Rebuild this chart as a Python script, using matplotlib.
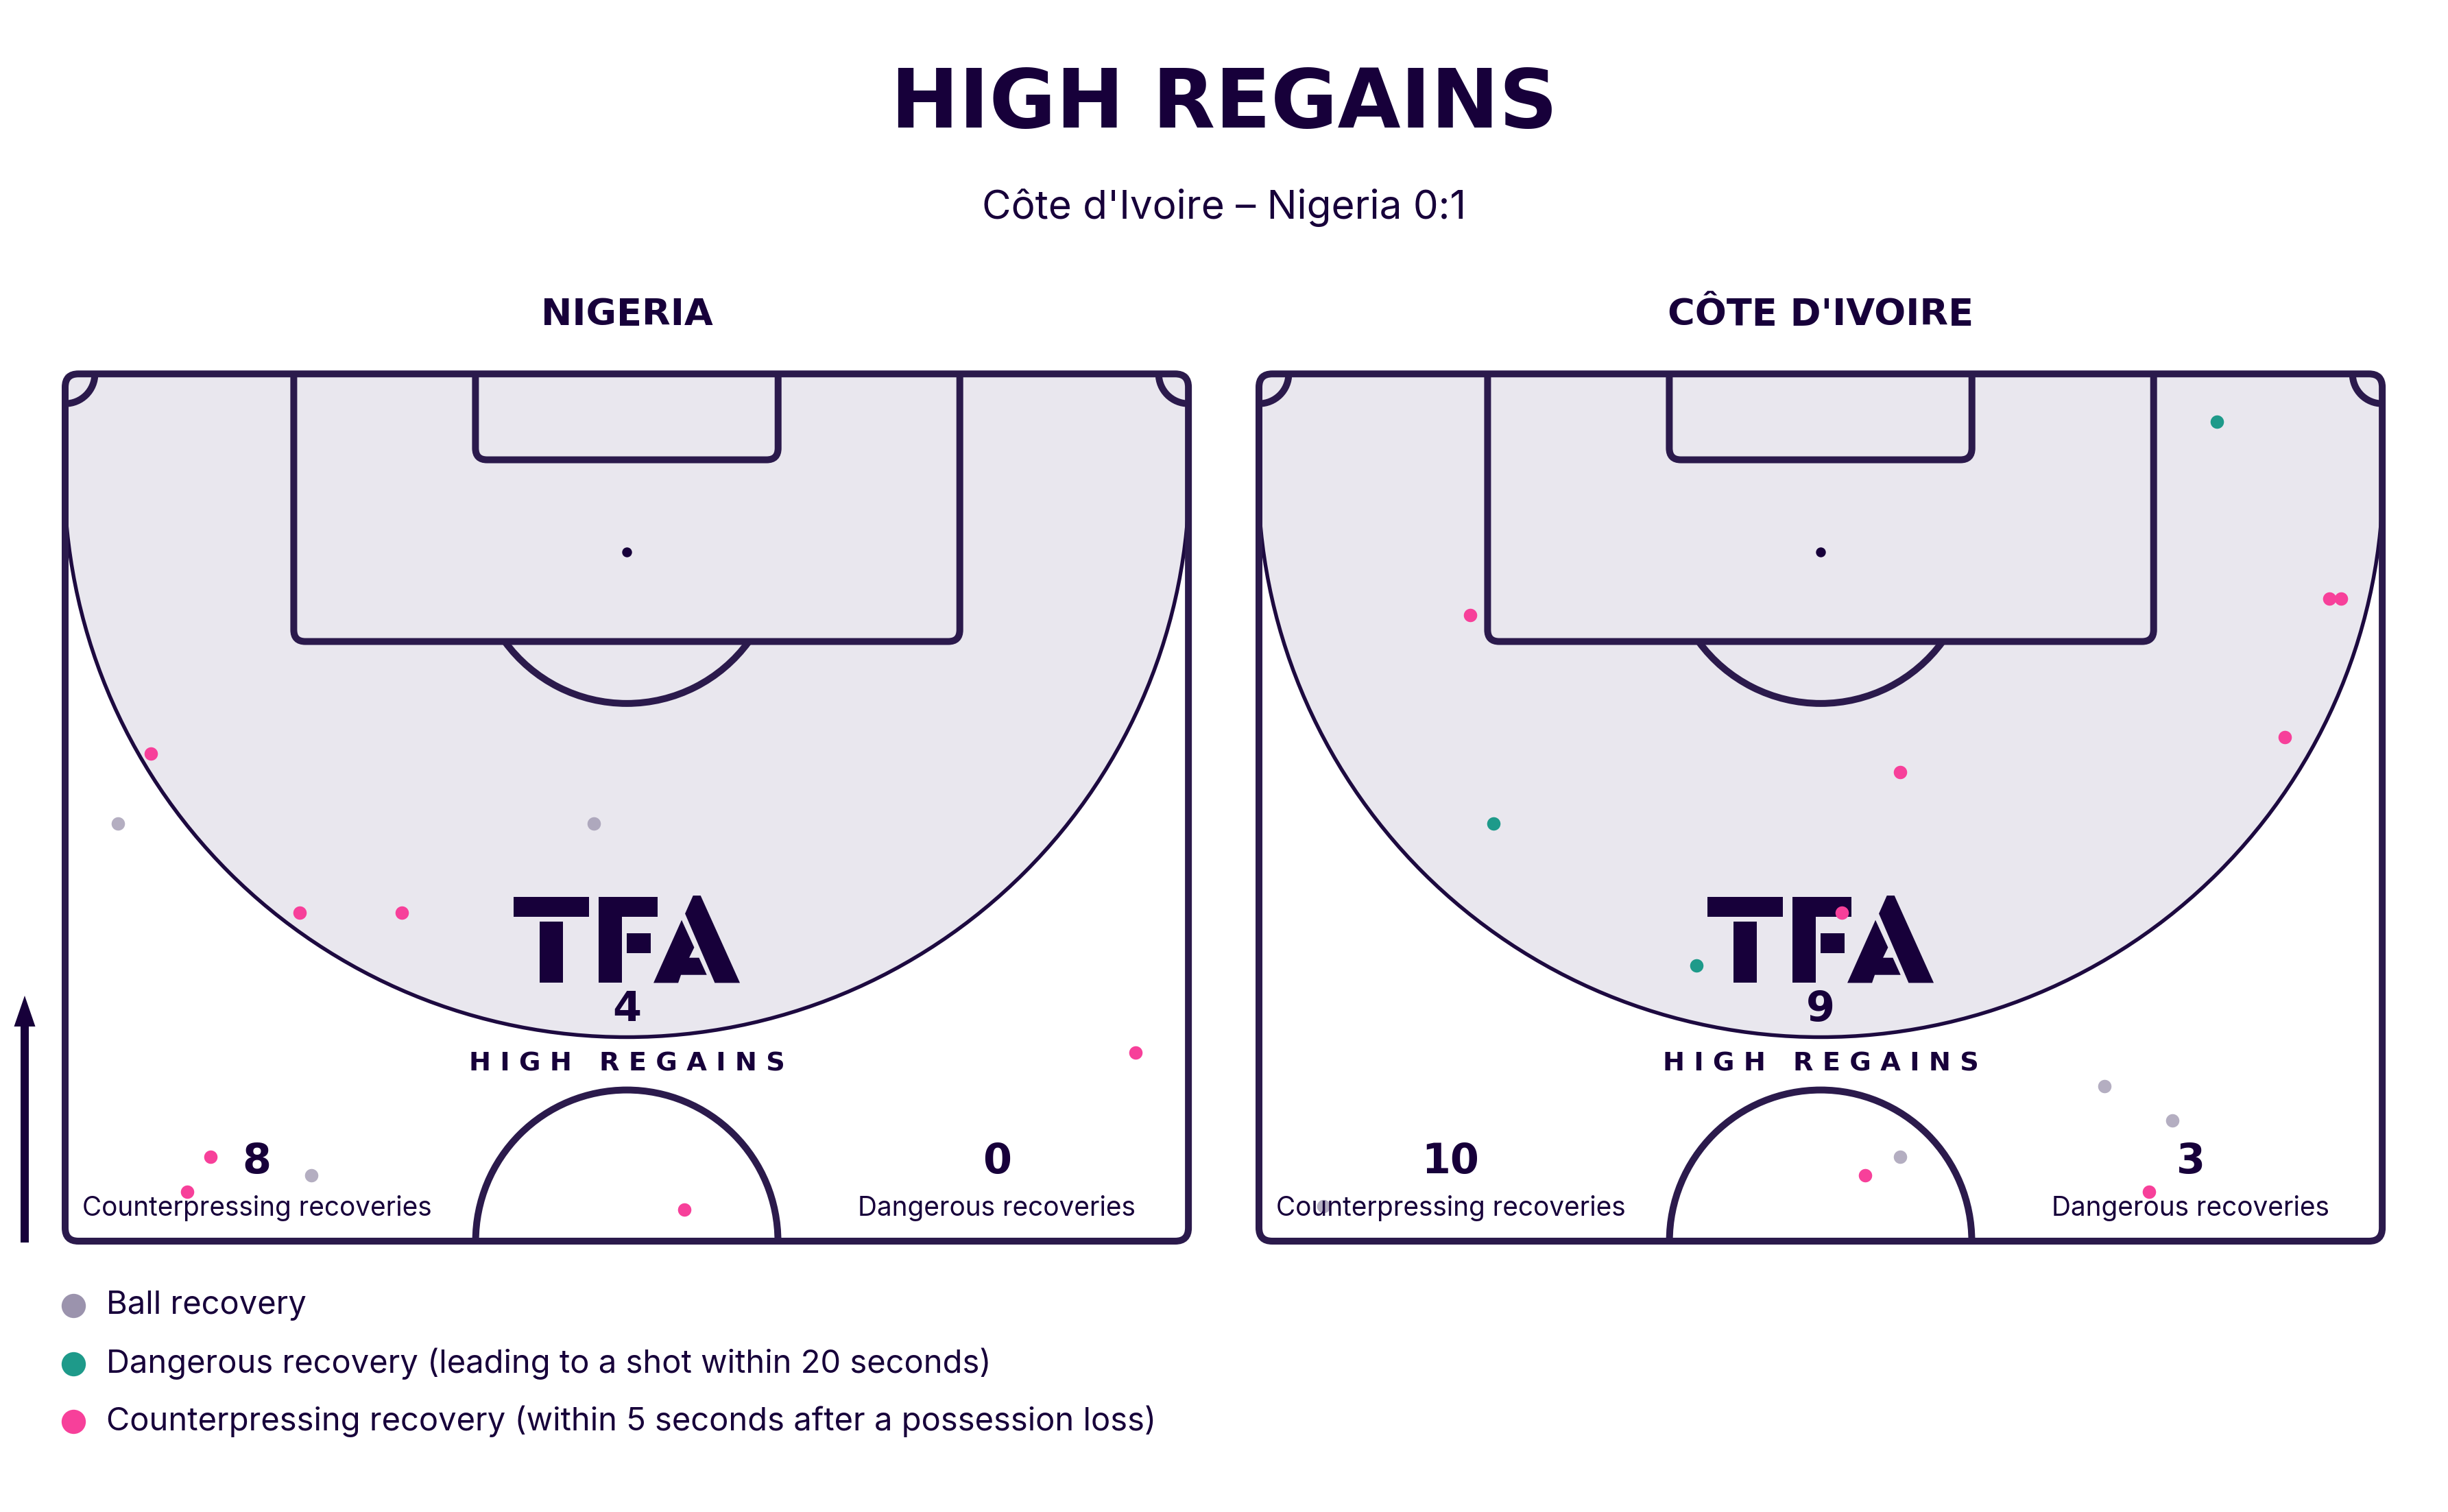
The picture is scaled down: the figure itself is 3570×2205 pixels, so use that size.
import numpy as np
import matplotlib.pyplot as plt
from matplotlib.patches import FancyBboxPatch, Rectangle, Arc, Polygon, FancyArrow

# --- colours / fonts ---
NAVY = '#17003a'
LINE = '#2b1a4c'
ZONE = '#e9e7ee'
C_BALL = '#9b93ad'
C_DANGER = '#1e9a8a'
C_COUNTER = '#f7409a'
REG = 'Inter'
BOLD = 'DejaVu Sans'

# --- data (x: across the pitch 0-68 m, y: from halfway line 0-52.5 m) ---
teams = ["NIGERIA", "CÔTE D'IVOIRE"]
high_regains = [4, 9]
counterpress_totals = [8, 10]
dangerous_totals = [0, 3]

nga_ball_x = [3.2, 32.0, 14.9]
nga_ball_y = [25.3, 25.3, 4.0]
nga_danger_x = []
nga_danger_y = []
nga_counter_x = [5.2, 14.2, 20.4, 64.8, 8.8, 7.4, 37.5]
nga_counter_y = [29.5, 19.9, 19.9, 11.4, 5.1, 3.0, 1.9]

civ_ball_x = [51.2, 55.3, 38.8, 3.9]
civ_ball_y = [9.4, 7.3, 5.1, 2.1]
civ_danger_x = [58.0, 14.2, 26.5]
civ_danger_y = [49.6, 25.3, 16.7]
civ_counter_x = [12.8, 64.8, 65.5, 62.1, 38.8, 35.3, 36.7, 53.9]
civ_counter_y = [37.9, 38.9, 38.9, 30.5, 28.4, 19.9, 4.0, 3.0]

legend_labels = ["Ball recovery",
                 "Dangerous recovery (leading to a shot within 20 seconds)",
                 "Counterpressing recovery (within 5 seconds after a possession loss)"]

W, L = 68.0, 52.5
FIG_W, FIG_H = 3570, 2205
PX = 24.09  # pixels per metre

# high-regain zone: lower half of a circle plus the strip above its centre
ZONE_CY, ZONE_R = 46.4, 34.05


def draw_pitch(ax):
    clip = Rectangle((0, 0), W, L, transform=ax.transData)
    t = np.linspace(np.pi, 2 * np.pi, 200)
    zx = list(W / 2 + ZONE_R * np.cos(t)) + [W + 1, W + 1, -1, -1]
    zy = list(ZONE_CY + ZONE_R * np.sin(t)) + [ZONE_CY, L + 1, L + 1, ZONE_CY]
    zone = Polygon(list(zip(zx, zy)), closed=True, facecolor=ZONE, edgecolor='none', zorder=1)
    ax.add_patch(zone)
    zone.set_clip_path(clip)
    zline = Arc((W / 2, ZONE_CY), 2 * ZONE_R, 2 * ZONE_R, theta1=180, theta2=360,
                color='#1d0a40', lw=1.3, zorder=2)
    ax.add_patch(zline)
    zline.set_clip_path(clip)

    ax.add_patch(FancyBboxPatch((0, 0), W, L, boxstyle="round,pad=0,rounding_size=0.8",
                                fill=False, edgecolor=LINE, lw=2.4, zorder=2))
    for x0, w, h in [(13.84, 40.32, 16.2), (24.84, 18.32, 5.2)]:
        box = FancyBboxPatch((x0, L - h), w, h + 2, boxstyle="round,pad=0,rounding_size=0.7",
                             fill=False, edgecolor=LINE, lw=2.4, zorder=2)
        ax.add_patch(box)
        box.set_clip_path(clip)
    ax.add_patch(Arc((W / 2, L - 10.8), 18.3, 18.3, theta1=216.2, theta2=323.8,
                     color=LINE, lw=2.4, zorder=2))
    ax.add_patch(Arc((W / 2, 0), 18.3, 18.3, theta1=0, theta2=180,
                     color=LINE, lw=2.4, zorder=2))
    ax.add_patch(Arc((0, L), 3.6, 3.6, theta1=270, theta2=360, color=LINE, lw=2.4, zorder=2))
    ax.add_patch(Arc((W, L), 3.6, 3.6, theta1=180, theta2=270, color=LINE, lw=2.4, zorder=2))
    ax.scatter([W / 2], [L - 10.8], s=6, color=NAVY, zorder=2)


def draw_logo(ax, cx, top):
    k = 0.013837
    shapes = [
        [(210, 113), (540, 113), (540, 200), (210, 200)],
        [(325, 222), (425, 222), (425, 490), (325, 490)],
        [(582, 113), (840, 113), (840, 200), (683, 200), (683, 490), (582, 490)],
        [(705, 272), (810, 272), (810, 360), (705, 360)],
        [(995, 108), (1028, 108), (1200, 490), (1090, 490), (960, 187)],
        [(945, 215), (1000, 335), (978, 380), (1021, 380), (1055, 455),
         (942, 455), (930, 490), (822, 490)],
    ]
    for pts in shapes:
        xy = [(cx + (u - 705) * k, top - (v - 108) * k) for u, v in pts]
        ax.add_patch(Polygon(xy, closed=True, facecolor=NAVY, edgecolor='none', zorder=3))


fig = plt.figure(figsize=(FIG_W / 300, FIG_H / 300), dpi=300)

pitch_left_px = [95, 1836]
team_points = [
    (nga_ball_x, nga_ball_y, nga_danger_x, nga_danger_y, nga_counter_x, nga_counter_y),
    (civ_ball_x, civ_ball_y, civ_danger_x, civ_danger_y, civ_counter_x, civ_counter_y),
]

for i, left_px in enumerate(pitch_left_px):
    pad = 2.0
    ax = fig.add_axes([(left_px - pad * PX) / FIG_W,
                       (FIG_H - 1810 - pad * PX) / FIG_H,
                       (W + 2 * pad) * PX / FIG_W,
                       (L + 2 * pad) * PX / FIG_H])
    ax.set_xlim(-pad, W + pad)
    ax.set_ylim(-pad, L + pad)
    ax.axis('off')

    draw_pitch(ax)
    draw_logo(ax, W / 2, 20.92)

    bx, by, dx, dy, cxs, cys = team_points[i]
    ax.scatter(bx, by, s=22, color=C_BALL, alpha=0.75, linewidths=0, zorder=5)
    ax.scatter(dx, dy, s=22, color=C_DANGER, linewidths=0, zorder=5)
    ax.scatter(cxs, cys, s=22, color=C_COUNTER, linewidths=0, zorder=5)

    ax.text(W / 2, 56.1, teams[i], ha='center', va='center', fontsize=13,
            fontweight='bold', family=BOLD, color=NAVY, clip_on=False)
    ax.text(W / 2, 14.0, str(high_regains[i]), ha='center', va='center',
            fontsize=14.5, fontweight='bold', family=BOLD, color=NAVY, zorder=6)
    ax.text(W / 2, 10.75, "H I G H   R E G A I N S", ha='center', va='center',
            fontsize=9.2, fontweight='bold', family=BOLD, color=NAVY, zorder=6)
    ax.text(11.6, 4.8, str(counterpress_totals[i]), ha='center', va='center',
            fontsize=14.5, fontweight='bold', family=BOLD, color=NAVY, zorder=6)
    ax.text(11.6, 2.0, "Counterpressing recoveries", ha='center', va='center',
            fontsize=9.3, family=REG, color=NAVY, zorder=6)
    ax.text(56.4, 4.8, str(dangerous_totals[i]), ha='center', va='center',
            fontsize=14.5, fontweight='bold', family=BOLD, color=NAVY, zorder=6)
    ax.text(56.4, 2.0, "Dangerous recoveries", ha='center', va='center',
            fontsize=9.3, family=REG, color=NAVY, zorder=6)

# overlay in pixel coordinates for title, legend and arrow
ov = fig.add_axes([0, 0, 1, 1])
ov.set_xlim(0, FIG_W)
ov.set_ylim(FIG_H, 0)
ov.axis('off')
ov.patch.set_alpha(0)

ov.text(FIG_W / 2, 153, "HIGH REGAINS", ha='center', va='center', fontsize=28.5,
        fontweight='bold', family=BOLD, color=NAVY)
ov.text(FIG_W / 2, 303, "Côte d'Ivoire – Nigeria 0:1", ha='center', va='center',
        fontsize=14, family=REG, color=NAVY)

ov.add_patch(FancyArrow(36, 1812, 0, -360, width=12, head_width=31, head_length=45,
                        length_includes_head=True, color=NAVY, lw=0))

legend_colors = [C_BALL, C_DANGER, C_COUNTER]
legend_y = [1904, 1989, 2073]
for lab, col, y in zip(legend_labels, legend_colors, legend_y):
    ov.scatter([107], [y], s=72, color=col, linewidths=0)
    ov.text(155, y, lab, ha='left', va='center', fontsize=11.3, family=REG, color=NAVY)

fig.savefig('out.png', dpi=300, facecolor='white')
